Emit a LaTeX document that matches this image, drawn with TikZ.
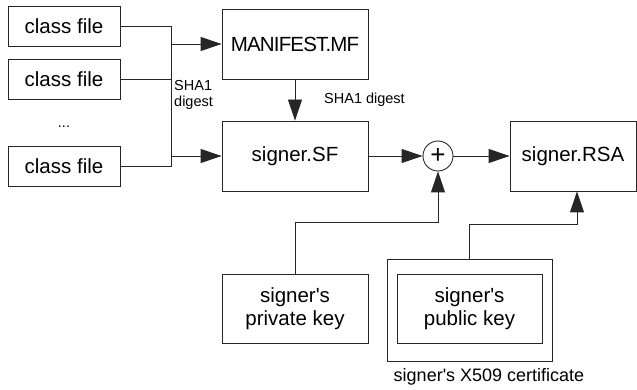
\documentclass[tikz,border=0pt]{standalone}
\usepackage{fontspec}
\setmainfont{Liberation Sans}
\usetikzlibrary{arrows.meta,positioning}

\begin{document}
\begin{tikzpicture}[
    x=1pt, y=-1pt,
    box/.style={rectangle, draw=black!85, line width=0.9pt, align=center,
        font=\fontsize{20.5}{23.5}\selectfont, inner sep=0pt},
    filebox/.style={box, minimum width=112pt, minimum height=40pt},
    bigbox/.style={box, minimum width=146pt, minimum height=70pt},
    small/.style={font=\fontsize{14.5}{16}\selectfont, inner sep=0pt},
    line/.style={draw=black!85, line width=0.9pt},
    arr/.style={line, -{Triangle[length=21pt,width=14pt]}},
    sum/.style={circle, draw=black!85, line width=0.9pt, minimum size=30pt,
        inner sep=0pt, font=\fontsize{26}{26}\selectfont}
]

\useasboundingbox (0,0) rectangle (637,390);

% FILE DI CLASSE
\node[filebox] (cf1) at (64,26.5) {class file};
\node[filebox] (cf2) at (64,79) {class file};
\node[small] (dots) at (64,127) {...};
\node[filebox] (cf3) at (64,166) {class file};

% MANIFEST E SIGNATURE FILE
\node[bigbox] (mf) at (295,44) {\addfontfeature{LetterSpace=-4}MANIFEST.MF};
\node[bigbox] (sf) at (295,156) {signer.SF};
\node[sum] (plus) at (438,156) {+};
\node[box, minimum width=126pt, minimum height=70pt] (rsa) at (573,156) {signer.RSA};

% CHIAVI
\node[bigbox, minimum height=69pt] (priv) at (295,308.5) {signer\textquotesingle s\\private key};
\node[box, minimum width=165pt, minimum height=102pt] (cert) at (469.5,310) {};
\node[box, minimum width=145pt, minimum height=69pt] (pub) at (469.5,308.5) {signer\textquotesingle s\\public key};
\node[font=\fontsize{18}{20}\selectfont, inner sep=0pt] (certlbl) at (489,377) {signer\textquotesingle s X509 certificate};

% DIGEST
\coordinate (bustop) at (171,26.5);
\coordinate (busbot) at (171,166);
\draw[line] (cf1.east) -- (bustop) -- (busbot) -- (cf3.east);
\draw[line] (cf2.east) -- (cf2.east -| bustop);
\draw[arr] (mf.west -| bustop) -- (mf.west);
\draw[arr] (sf.west -| bustop) -- (sf.west);
\node[small, anchor=west, align=left] (sha1a) at (174,95) {SHA1\\digest};

\draw[arr] (mf) -- (sf);
\node[small, anchor=west] (sha1b) at (324,100) {SHA1 digest};

% FIRMA
\draw[arr] (sf) -- (plus);
\draw[arr] (plus) -- (rsa);
\draw[arr] (priv.north) -- ++(0,-51) -| (plus.south);
\draw[arr] (cert.north) -- ++(0,-34) -| ([xshift=4pt]rsa.south);

\end{tikzpicture}
\end{document}
